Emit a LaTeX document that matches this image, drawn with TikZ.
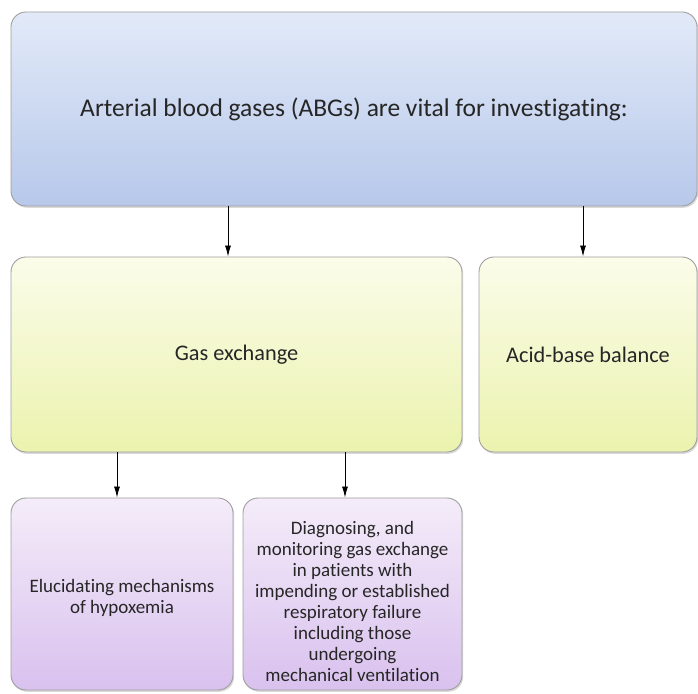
\documentclass[tikz,border=0pt]{standalone}
\usepackage{fontspec}
\setmainfont{Carlito}[Ligatures={NoCommon}]
\usetikzlibrary{arrows.meta,shadows}
\definecolor{blueTop}{HTML}{E2EAF8}
\definecolor{blueBot}{HTML}{B7C8EA}
\definecolor{yelTop}{HTML}{FBFCEA}
\definecolor{yelBot}{HTML}{EBF3AE}
\definecolor{purTop}{HTML}{F4ECF9}
\definecolor{purBot}{HTML}{D9C1EE}
\definecolor{txt}{HTML}{262626}
\begin{document}
\begin{tikzpicture}[x=1pt,y=1pt,
  box/.style={draw=black!38, line width=0.9pt, rounded corners=15pt,
    align=center, inner sep=0pt, text=txt,
    drop shadow={opacity=0.3, shadow xshift=1.2pt, shadow yshift=-1.8pt}},
  bluebox/.style={box, top color=blueTop, bottom color=blueBot},
  yellowbox/.style={box, top color=yelTop, bottom color=yelBot},
  purplebox/.style={box, top color=purTop, bottom color=purBot},
  boxtext/.style={align=center, inner sep=0pt, text=txt},
  arr/.style={-{Latex[length=11pt,width=6pt]}, line width=0.8pt, black}]
\useasboundingbox (0,0) rectangle (698,693);

% boxes
\node[bluebox, minimum width=686, minimum height=194,
  font=\fontsize{25.5}{30}\selectfont] (abg) at (354,584)
  {Arterial blood gases (ABGs) are vital for investigating:};
\node[yellowbox, minimum width=451, minimum height=195,
  font=\fontsize{22.3}{26}\selectfont] (gas) at (236.5,338.5) {Gas exchange};
\node[yellowbox, minimum width=218, minimum height=195,
  font=\fontsize{22.3}{26}\selectfont] (acid) at (588,338.5) {Acid-base balance};
\node[purplebox, minimum width=222, minimum height=192] (hypo) at (122,99) {};
\node[purplebox, minimum width=219, minimum height=192] (diag) at (352.5,99) {};

% texts of the lower boxes, set a little below their centres
\node[boxtext, font=\fontsize{19}{20.5}\selectfont] (hypotext)
  at ([yshift=-4pt]hypo.center) {Elucidating mechanisms\\of hypoxemia};
\node[boxtext, font=\fontsize{19}{21}\selectfont] (diagtext)
  at ([yshift=-7pt]diag.center)
  {Diagnosing, and\\monitoring gas exchange\\in patients with\\impending or established\\respiratory failure\\including those\\undergoing\\mechanical ventilation};

% connector columns
\coordinate (c1) at (228,0);
\coordinate (c2) at (583,0);
\coordinate (c3) at (117,0);
\coordinate (c4) at (345,0);

\draw[arr] (abg.south -| c1) -- (gas.north -| c1);
\draw[arr] (abg.south -| c2) -- (acid.north -| c2);
\draw[arr] (gas.south -| c3) -- (hypo.north -| c3);
\draw[arr] (gas.south -| c4) -- (diag.north -| c4);
\end{tikzpicture}
\end{document}
